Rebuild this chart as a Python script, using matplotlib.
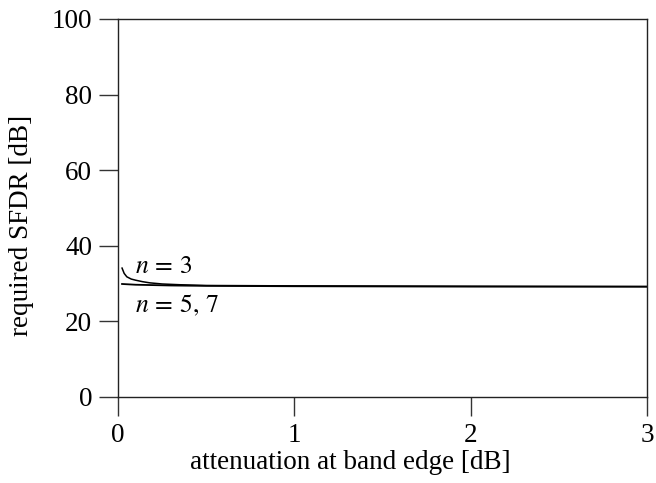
import numpy as np
import matplotlib
matplotlib.use("Agg")
import matplotlib.pyplot as plt

plt.rcParams["font.family"] = "Liberation Serif"
plt.rcParams["mathtext.fontset"] = "stix"

# values
atten_n3 = [0.023, 0.035, 0.05, 0.075, 0.1, 0.14, 0.18, 0.25, 0.35, 0.5, 1.0, 2.0, 3.0]
sfdr_n3 = [34.1, 32.7, 31.8, 31.2, 30.9, 30.5, 30.2, 29.9, 29.7, 29.5, 29.4, 29.3, 29.2]

atten_n57 = [0.023, 0.1, 0.3, 0.5, 1.0, 2.0, 3.0]
sfdr_n57 = [29.9, 29.7, 29.5, 29.4, 29.3, 29.2, 29.2]

W, H = 656, 483
fs = 19.5

fig = plt.figure(figsize=(W / 100, H / 100), dpi=100)
ax = fig.add_axes([118 / W, 1 - 397 / H, (647 - 118) / W, (397 - 19) / H])

ax.plot(atten_n3, sfdr_n3, color="black", lw=1.1)
ax.plot(atten_n57, sfdr_n57, color="black", lw=1.3)

# curve labels
ax.text(0.096, 32.8, r"$n\,=\,3$", fontsize=18.5, va="baseline", ha="left")
ax.text(0.096, 22.5, r"$n\,=\,5,\,7$", fontsize=18.5, va="baseline", ha="left")

ax.set_xlim(0, 3)
ax.set_ylim(0, 100)
ax.set_xticks([0, 1, 2, 3])
ax.set_yticks([0, 20, 40, 60, 80, 100])
ax.tick_params(direction="out", length=13.5, width=1, labelsize=fs, pad=5,
               top=False, right=False, color="#333333")
for s in ax.spines.values():
    s.set_linewidth(1.0)
    s.set_color("#222222")

fig.text(350 / W, 1 - 469 / H, "attenuation at band edge [dB]", fontsize=fs,
         ha="center", va="baseline")
fig.text(22 / W, 1 - 225.5 / H, "required SFDR [dB]", fontsize=fs,
         ha="center", va="center", rotation=90)

fig.savefig("out.png", dpi=100)
